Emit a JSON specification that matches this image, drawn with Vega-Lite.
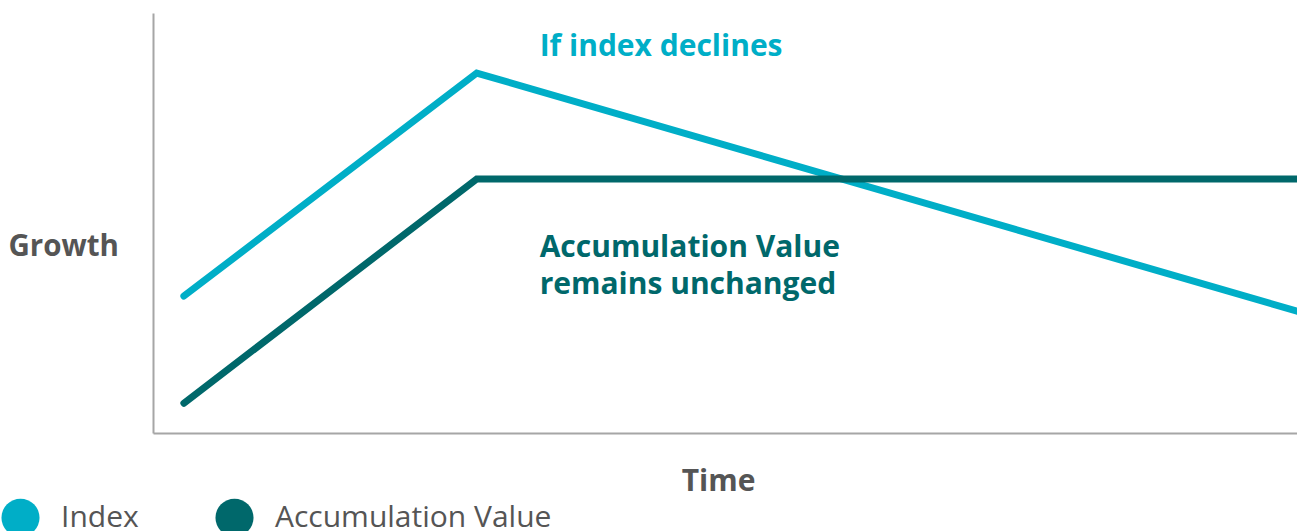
{
  "$schema": "https://vega.github.io/schema/vega-lite/v6.json",
  "width": 1144,
  "height": 420,
  "autosize": {"type": "none"},
  "padding": {"left": 153, "top": 13, "right": 0, "bottom": 98},
  "background": "white",
  "config": {"view": {"stroke": null}, "font": "Open Sans"},
  "datasets": {
    "lines": [
      {"series": "Index", "t": 2.7, "v": 32.6},
      {"series": "Index", "t": 28.3, "v": 85.7},
      {"series": "Index", "t": 100, "v": 29.0},
      {"series": "Accumulation Value", "t": 2.7, "v": 7.1},
      {"series": "Accumulation Value", "t": 28.3, "v": 60.5},
      {"series": "Accumulation Value", "t": 100, "v": 60.5}
    ],
    "notes": [
      {"label": "If index declines", "t": 33.8, "v": 91.9, "series": "Index"},
      {"label": "Accumulation Value", "t": 33.8, "v": 44.1, "series": "Accumulation Value"},
      {"label": "remains unchanged", "t": 33.8, "v": 35.3, "series": "Accumulation Value"}
    ]
  },
  "layer": [
    {
      "data": {"name": "lines"},
      "mark": {"type": "line", "strokeWidth": 7, "strokeCap": "round", "strokeJoin": "miter"},
      "encoding": {
        "x": {
          "field": "t", "type": "quantitative",
          "scale": {"domain": [0, 100], "nice": false, "zero": false},
          "axis": {
            "title": "Time", "labels": false, "ticks": false, "grid": false,
            "domainColor": "#a6a6a6", "domainWidth": 2,
            "titleFontSize": 30, "titleFontWeight": "bold", "titleColor": "#555555",
            "titleX": 565, "titleY": 48, "titleBaseline": "middle", "titleAlign": "center"
          }
        },
        "y": {
          "field": "v", "type": "quantitative",
          "scale": {"domain": [0, 100], "nice": false, "zero": false},
          "axis": {
            "title": "Growth", "labels": false, "ticks": false, "grid": false,
            "domainColor": "#a6a6a6", "domainWidth": 2,
            "titleFontSize": 29.5, "titleFontWeight": "bold", "titleColor": "#555555",
            "titleAngle": 0, "titleX": -145, "titleY": 233,
            "titleAlign": "left", "titleBaseline": "middle"
          }
        },
        "color": {
          "field": "series", "type": "nominal",
          "scale": {"domain": ["Index", "Accumulation Value"], "range": ["#00aec7", "#00686b"]},
          "legend": {
            "title": null, "orient": "none", "direction": "horizontal",
            "legendX": -152, "legendY": 485,
            "symbolType": "circle", "symbolSize": 1450, "symbolStrokeWidth": 0,
            "labelFontSize": 30, "labelFontWeight": 400, "labelColor": "#555555",
            "labelOffset": 21, "columnPadding": 76, "labelLimit": 500,
            "encode": {"symbols": {"update": {"fill": {"scale": "color", "field": "value"}, "strokeWidth": {"value": 0}, "opacity": {"value": 1}}}}
          }
        }
      }
    },
    {
      "data": {"name": "notes"},
      "mark": {"type": "text", "align": "left", "baseline": "middle", "fontSize": 30, "fontWeight": "bold"},
      "encoding": {
        "x": {"field": "t", "type": "quantitative"},
        "y": {"field": "v", "type": "quantitative"},
        "text": {"field": "label"},
        "color": {"field": "series", "type": "nominal", "legend": null}
      }
    }
  ]
}
